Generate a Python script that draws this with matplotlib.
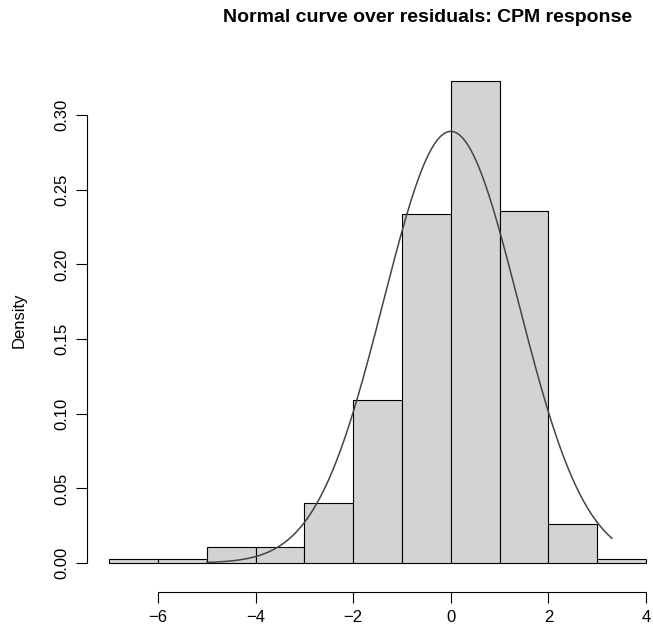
import numpy as np
import matplotlib
matplotlib.use("Agg")
import matplotlib.pyplot as plt

plt.rcParams["font.family"] = ["Liberation Sans", "DejaVu Sans"]

# histogram of residuals (density scale), unit-width bins
bin_edges = [-7, -6, -5, -4, -3, -2, -1, 0, 1, 2, 3, 4]
densities = [0.003, 0.003, 0.011, 0.011, 0.040, 0.109, 0.234, 0.323, 0.236, 0.026, 0.003]

# fitted normal curve parameters
fit_mean = 0.0
fit_sd = 1.38
curve_from, curve_to = -5.0, 3.3

xticks = [-6, -4, -2, 0, 2, 4]
yticks = [0.00, 0.05, 0.10, 0.15, 0.20, 0.25, 0.30]

W, H = 653, 625
fig = plt.figure(figsize=(W / 100, H / 100), dpi=100)
# plot region in pixels (left, top, right, bottom)
L, T, R, B = 87, 61.5, 668, 592
ax = fig.add_axes([L / W, 1 - B / H, (R - L) / W, (B - T) / H])

lefts = np.array(bin_edges[:-1])
widths = np.diff(bin_edges)
ax.bar(lefts, densities, width=widths, align="edge",
       color="#d3d3d3", edgecolor="black", linewidth=0.8)

xs = np.linspace(curve_from, curve_to, 300)
ys = np.exp(-0.5 * ((xs - fit_mean) / fit_sd) ** 2) / (fit_sd * np.sqrt(2 * np.pi))
ax.plot(xs, ys, color="#444444", linewidth=1.1)

ax.set_xlim(-7.455, 4.45)
ax.set_ylim(-0.0194, 0.3359)
for s in ("top", "right"):
    ax.spines[s].set_visible(False)
ax.spines["left"].set_bounds(0, 0.30)
ax.spines["bottom"].set_bounds(-6, 4)
ax.set_xticks(xticks)
ax.set_xticklabels([f"{t}".replace("-", "\u2212") for t in xticks])
ax.set_yticks(yticks)
ax.set_yticklabels([f"{t:.2f}" for t in yticks], rotation=90, va="center")
ax.tick_params(direction="out", length=8, width=0.8, labelsize=12, pad=5)

fig.text(19 / W, 1 - 320 / H, "Density", rotation=90,
         ha="center", va="center", fontsize=12)
fig.text(427.5 / W, 1 - 18 / H, "Normal curve over residuals: CPM response",
         ha="center", va="center", fontsize=14, fontweight="bold")

fig.savefig("out.png", dpi=100)
